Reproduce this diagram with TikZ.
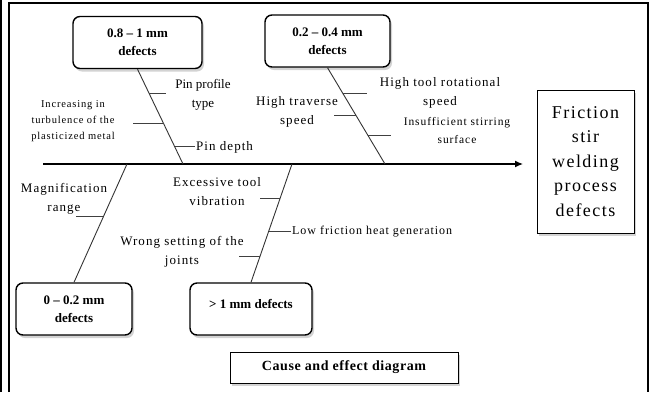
\documentclass[tikz,border=0pt]{standalone}
\usepackage{fontspec}
\setmainfont{Liberation Serif}
\newfontfamily\espaciada[LetterSpace=8]{Liberation Serif}
\newfontfamily\espaciadab[LetterSpace=4]{Liberation Serif}
\usetikzlibrary{shadows,arrows.meta}

\begin{document}
\begin{tikzpicture}[x=1pt,y=-1pt,
    defecto/.style={draw, line width=1.4pt, rounded corners=7pt, fill=white, align=center,
      font=\bfseries\fontsize{13}{18}\selectfont, minimum height=52pt,
      drop shadow={shadow xshift=2pt, shadow yshift=-3pt, opacity=0.35}},
    caja/.style={draw, line width=1pt, fill=white, align=center,
      drop shadow={shadow xshift=2pt, shadow yshift=-3pt, opacity=0.35}},
    hueso/.style={line width=0.9pt, black!80},
    rama/.style={line width=0.9pt, black!75},
    causa/.style={align=center, inner sep=0pt, font=\espaciada\fontsize{13}{19}\selectfont},
    causachica/.style={align=center, inner sep=0pt, font=\espaciada\fontsize{10.5}{16}\selectfont}]
    \useasboundingbox (0,0) rectangle (650,392);

    % Marco
    \draw[line width=1.2pt] (1,0) -- (1,392);
    \draw[line width=1.2pt] (9,392) -- (9,3) -- (648,3) -- (648,392);

    % Cajas de defectos
    \node[defecto, minimum width=129pt] (d1) at (137.5,42.5) {0.8 -- 1 mm\\defects};
    \node[defecto, minimum width=125pt] (d2) at (327.5,41) {0.2 -- 0.4 mm\\defects};
    \node[defecto, minimum width=116pt] (d3) at (74,309) {0 -- 0.2 mm\\defects};
    \node[defecto, minimum width=122pt, text depth=10pt] (d4) at (251,309) {> 1 mm defects};

    % Efecto y titulo
    \node[caja, minimum width=97pt, minimum height=143pt, font=\espaciada\fontsize{18}{24.5}\selectfont]
      (efecto) at (585.5,161.5) {Friction\\stir\\welding\\process\\defects};
    \node[caja, minimum width=228pt, minimum height=31pt, font=\espaciadab\bfseries\fontsize{14}{16}\selectfont]
      (titulo) at (344,367.5) {Cause and effect diagram};

    % Espina central
    \coordinate (cola) at (43,164);
    \coordinate (cabeza) at (523,164);
    \draw[line width=1.3pt, -{Latex[length=8pt,width=7pt]}] (cola) -- (cabeza);

    % Huesos
    \coordinate (s1) at (183,164);
    \coordinate (s2) at (385,164);
    \coordinate (s3) at (127,164);
    \coordinate (s4) at (292,164);
    \draw[hueso] (d1.south) -- coordinate[pos=0.255] (h1) coordinate[pos=0.574] (h2)
      coordinate[pos=0.819] (h3) (s1);
    \draw[hueso] (d2.south) -- coordinate[pos=0.268] (h4) coordinate[pos=0.495] (h5)
      coordinate[pos=0.701] (h6) (s2);
    \draw[hueso] (s3) -- coordinate[pos=0.445] (h7) (d3.north);
    \draw[hueso] (s4) -- coordinate[pos=0.294] (h8) coordinate[pos=0.571] (h9)
      coordinate[pos=0.782] (h10) (d4.north);

    % Ramas
    \draw[rama] (h1) -- ++(17,0);
    \draw[rama] (h2) -- ++(-31,0);
    \draw[rama] (h3) -- ++(20,0);
    \draw[rama] (h4) -- ++(24,0);
    \draw[rama] (h5) -- ++(-22,0);
    \draw[rama] (h6) -- ++(23,0);
    \draw[rama] (h7) -- ++(-27,0);
    \draw[rama] (h8) -- ++(-20,0);
    \draw[rama] (h9) -- ++(22,0);
    \draw[rama] (h10) -- ++(-21,0);

    % Causas
    \node[causa, font=\fontsize{13}{19}\selectfont] (c1) at (203,95) {Pin profile\\type};
    \node[causachica] (c2) at (73,121) {Increasing in\\turbulence of the\\plasticized metal};
    \node[causa, anchor=west] (c3) at (196,147) {Pin depth};
    \node[causa] (c4) at (440,93) {High tool rotational\\speed};
    \node[causa] (c5) at (297,112) {High traverse\\speed};
    \node[causa, font=\espaciada\fontsize{11.5}{18}\selectfont] (c6) at (457,131) {Insufficient stirring\\surface};
    \node[causa] (c7) at (64,199) {Magnification\\range};
    \node[causa] (c8) at (217,192) {Excessive tool\\vibration};
    \node[causa, anchor=west, font=\espaciada\fontsize{12}{14}\selectfont] (c9) at (292,232) {Low friction heat generation};
    \node[causa] (c10) at (182,252) {Wrong setting of the\\joints};
\end{tikzpicture}
\end{document}
